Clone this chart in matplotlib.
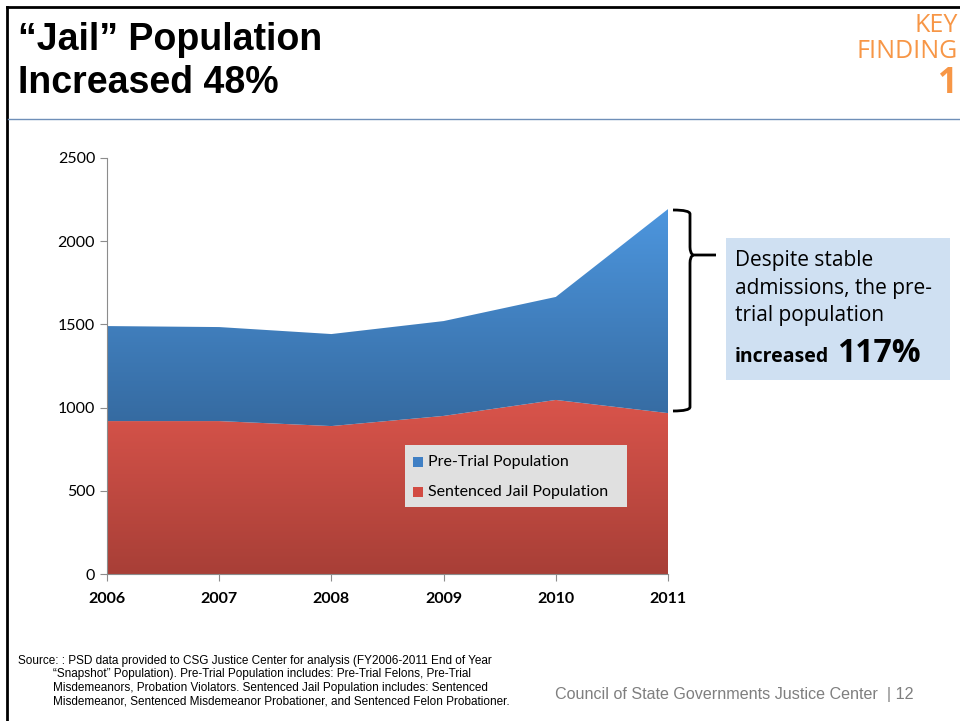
import numpy as np
import matplotlib
matplotlib.use('Agg')
import matplotlib.pyplot as plt
from matplotlib.colors import LinearSegmentedColormap
from matplotlib.lines import Line2D
from matplotlib.patches import Rectangle, PathPatch
from matplotlib.path import Path

years = [2006, 2007, 2008, 2009, 2010, 2011]
sentenced = [919, 919, 889, 950, 1046, 967]
pretrial = [571, 565, 553, 570, 619, 1226]
series_names = ['Pre-Trial Population', 'Sentenced Jail Population']
yticks = [0, 500, 1000, 1500, 2000, 2500]

total = [s + p for s, p in zip(sentenced, pretrial)]

fig = plt.figure(figsize=(9.6, 7.21), dpi=100)
W, H = 960, 721

def fx(px):
    return px / W

def fy(py):
    return 1 - py / H

# slide border and header rule
fig.add_artist(Line2D([fx(7), fx(7)], [fy(7), fy(721)], color='black', lw=2))
fig.add_artist(Line2D([fx(7), 1], [fy(7), fy(7)], color='black', lw=2))
fig.add_artist(Line2D([fx(8), 1], [fy(119), fy(119)], color='#6f8fb8', lw=1))

fig.text(fx(18), fy(40), '\u201cJail\u201d Population', fontsize=27, fontweight='bold',
         family='Liberation Sans', va='center', ha='left')
fig.text(fx(18), fy(83), 'Increased 48%', fontsize=27, fontweight='bold',
         family='Liberation Sans', va='center', ha='left')
fig.text(fx(958), fy(25), 'KEY', fontsize=18, color='#f79646', family='Open Sans',
         va='center', ha='right')
fig.text(fx(958), fy(51), 'FINDING', fontsize=18, color='#f79646', family='Open Sans',
         va='center', ha='right')
fig.text(fx(958), fy(84), '1', fontsize=25, color='#f79646', fontweight='bold',
         family='Open Sans', va='center', ha='right')

ax = fig.add_axes([fx(107), fy(574), fx(668 - 107), (574 - 158) / H])

def gradient_fill(lower, upper, c_top, c_bot, lo, hi):
    poly = ax.fill_between(years, lower, upper, color='none', lw=0)
    cmap = LinearSegmentedColormap.from_list('g', [c_bot, c_top])
    grad = np.linspace(0, 1, 256).reshape(-1, 1)
    im = ax.imshow(grad, cmap=cmap, aspect='auto', origin='lower',
                   extent=[years[0], years[-1], lo, hi], zorder=1)
    im.set_clip_path(poly.get_paths()[0], transform=ax.transData)

gradient_fill([0] * len(years), sentenced, '#d9544b', '#a83f37', 0, max(sentenced))
gradient_fill(sentenced, total, '#4d96de', '#356aa0', min(sentenced), max(total))

ax.set_xlim(years[0], years[-1])
ax.set_ylim(0, 2500)
ax.set_yticks(yticks)
ax.set_xticks(years)
ax.set_xticklabels([str(y) for y in years], fontweight='bold', fontsize=11.5, family='Lato')
ax.set_yticklabels([str(y) for y in yticks], fontsize=11.5, family='Lato')
for s in ['top', 'right']:
    ax.spines[s].set_visible(False)
for s in ['left', 'bottom']:
    ax.spines[s].set_color('#8c8c8c')
ax.tick_params(axis='both', colors='#8c8c8c', labelcolor='black', length=5, direction='out')
ax.tick_params(axis='x', pad=8)

# legend
fig.add_artist(Rectangle((fx(405), fy(507)), fx(222), (507 - 445) / H,
                         facecolor='#e0e0e0', edgecolor='none', zorder=5))
legend_colors = ['#3f7fc4', '#d24b43']
for i, (name, c) in enumerate(zip(series_names, legend_colors)):
    yy = 462 + 30 * i
    fig.add_artist(Rectangle((fx(413), fy(yy + 5)), fx(10), 10 / H, facecolor=c,
                             edgecolor='none', zorder=6))
    fig.text(fx(428), fy(yy), name, fontsize=11.5, family='Lato', va='center',
             ha='left', zorder=7)

# brace
bx0, bx1, btop, bbot, bmid, tip = 673, 690, 210, 411, 255, 716
verts = [(bx0, btop), (bx1, btop), (bx1, btop + 4), (bx1, bmid - 8),
         (bx1, bmid - 2), (bx1 + 3, bmid), (tip, bmid),
         (bx1 + 3, bmid), (bx1, bmid + 2), (bx1, bmid + 8),
         (bx1, bbot - 4), (bx1, bbot), (bx0, bbot)]
verts = [(fx(x), fy(y)) for x, y in verts]
codes = [Path.MOVETO, Path.CURVE3, Path.CURVE3, Path.LINETO, Path.CURVE3, Path.CURVE3,
         Path.LINETO, Path.MOVETO, Path.CURVE3, Path.CURVE3, Path.LINETO,
         Path.CURVE3, Path.CURVE3]
fig.add_artist(PathPatch(Path(verts, codes), facecolor='none', edgecolor='black',
                         lw=2, transform=fig.transFigure))

# callout box
fig.add_artist(Rectangle((fx(726), fy(380)), fx(224), (380 - 238) / H,
                         facecolor='#cfe0f2', edgecolor='none'))
for i, line in enumerate(['Despite stable', 'admissions, the pre-', 'trial population']):
    fig.text(fx(735), fy(260 + 28 * i), line, fontsize=15, family='Open Sans',
             va='center', ha='left')
fig.text(fx(735), fy(357), 'increased', fontsize=14, fontweight='bold', family='Open Sans',
         va='center', ha='left')
fig.text(fx(837), fy(354), '117%', fontsize=23, fontweight='bold', family='Open Sans',
         va='center', ha='left')

# footer
src = [(18, 'Source: : PSD data provided to CSG Justice Center for analysis (FY2006-2011 End of Year'),
       (53, '\u201cSnapshot\u201d Population). Pre-Trial Population includes: Pre-Trial Felons, Pre-Trial'),
       (53, 'Misdemeanors, Probation Violators. Sentenced Jail Population includes: Sentenced'),
       (53, 'Misdemeanor, Sentenced Misdemeanor Probationer, and Sentenced Felon Probationer.')]
for i, (x, line) in enumerate(src):
    fig.text(fx(x), fy(661 + 13.5 * i), line, fontsize=8.5, family='Liberation Sans',
             va='center', ha='left')
fig.text(fx(555), fy(694), 'Council of State Governments Justice Center  | 12', fontsize=11.6,
         color='#7f7f7f', family='Liberation Sans', va='center', ha='left')

fig.savefig('out.png', dpi=100)
